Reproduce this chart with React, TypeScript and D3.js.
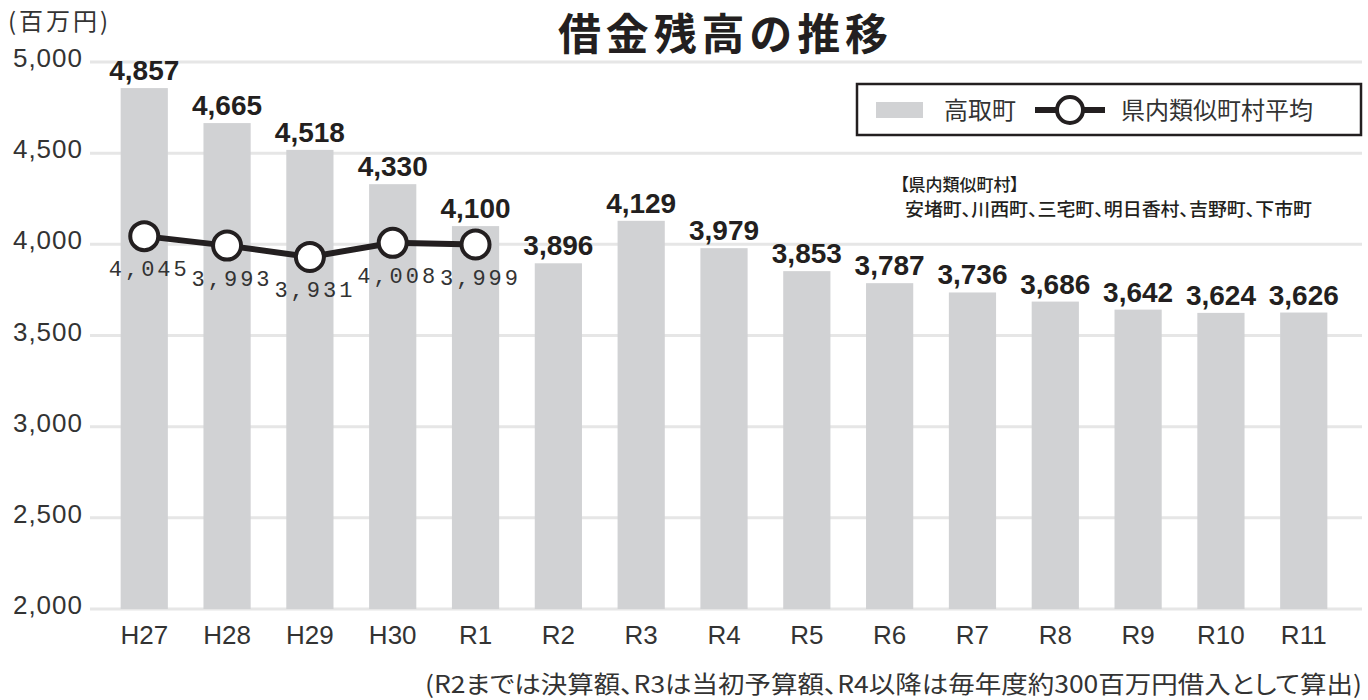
import React from "react";
import * as d3 from "d3";

const categories = ["H27", "H28", "H29", "H30", "R1", "R2", "R3", "R4", "R5", "R6", "R7", "R8", "R9", "R10", "R11"];
const takatoriValues = [4857, 4665, 4518, 4330, 4100, 3896, 4129, 3979, 3853, 3787, 3736, 3686, 3642, 3624, 3626];
const avgCategories = ["H27", "H28", "H29", "H30", "R1"];
const avgValues = [4045, 3993, 3931, 4008, 3999];
const yTicks = [2000, 2500, 3000, 3500, 4000, 4500, 5000];

const W = 1368;
const H = 700;
const DARK = "#231f20";
const BAR = "#d1d2d4";
const GRID = "#e6e6e6";
const SANS = "'Liberation Sans', Arial, Helvetica, sans-serif";
const JP = "'Noto Sans CJK JP', 'Noto Sans', sans-serif";
const MONO = "'Liberation Mono', 'DejaVu Sans Mono', monospace";
const palt = { fontFeatureSettings: "'palt'" } as React.CSSProperties;

export default function App() {
  const x = d3.scaleBand<string>().domain(categories).range([90, 1358]).paddingInner(0.43).paddingOuter(0.37);
  const y = d3.scaleLinear().domain([2000, 5000]).range([609, 62]);
  const fmt = d3.format(",");
  const line = d3
    .line<number>()
    .x((_, i) => (x(avgCategories[i]) as number) + x.bandwidth() / 2)
    .y((d) => y(d));

  return (
    <svg width={W} height={H} style={{ position: "absolute", left: 0, top: 0, background: "#fff" }}>
      {/* gridlines */}
      {yTicks.map((t) => (
        <line key={t} x1={90} x2={1362} y1={y(t)} y2={y(t)} stroke={GRID} strokeWidth={3} />
      ))}
      {/* y tick labels */}
      {yTicks.map((t) => (
        <text key={"yl" + t} x={83} y={y(t) - 4} textAnchor="end" dominantBaseline="central" fontFamily={SANS} fontSize={26} letterSpacing={1} fill="#333">
          {fmt(t)}
        </text>
      ))}
      <text x={8} y={30} fontFamily={JP} fontSize={24} fill="#333" textLength={100} lengthAdjust="spacing">(百万円)</text>

      {/* title */}
      <text x={723} y={50} textAnchor="middle" fontFamily={JP} fontWeight={700} fontSize={43} fill={DARK} textLength={330} lengthAdjust="spacing">
        借金残高の推移
      </text>

      {/* bars */}
      {categories.map((c, i) => (
        <rect key={c} x={x(c)} y={y(takatoriValues[i])} width={x.bandwidth()} height={y(2000) - y(takatoriValues[i])} fill={BAR} />
      ))}
      {/* bar labels */}
      {categories.map((c, i) => (
        <text
          key={"bl" + c}
          x={(x(c) as number) + x.bandwidth() / 2}
          y={y(takatoriValues[i]) - 8}
          textAnchor="middle"
          fontFamily={SANS}
          fontWeight={700}
          fontSize={28}
          fill={DARK}
        >
          {fmt(takatoriValues[i])}
        </text>
      ))}

      {/* x labels */}
      {categories.map((c) => (
        <text key={"xl" + c} x={(x(c) as number) + x.bandwidth() / 2} y={644} textAnchor="middle" fontFamily={SANS} fontSize={26} fill="#333">
          {c}
        </text>
      ))}

      {/* average line */}
      <path d={line(avgValues) || ""} fill="none" stroke={DARK} strokeWidth={6} />
      {avgValues.map((v, i) => (
        <circle key={"c" + i} cx={(x(avgCategories[i]) as number) + x.bandwidth() / 2} cy={y(v)} r={14} fill="#fff" stroke={DARK} strokeWidth={4} />
      ))}
      {avgValues.map((v, i) => (
        <text
          key={"al" + i}
          x={(x(avgCategories[i]) as number) + x.bandwidth() / 2 + 5}
          y={y(v) + 40}
          textAnchor="middle"
          fontFamily={MONO}
          fontSize={22}
          letterSpacing={3}
          fill="#333"
        >
          {fmt(v)}
        </text>
      ))}

      {/* legend */}
      <rect x={857} y={84} width={504} height={51} fill="#fff" stroke={DARK} strokeWidth={2.5} />
      <rect x={876} y={102} width={47} height={16} fill={BAR} />
      <text x={944} y={119} fontFamily={JP} fontSize={24} fill="#333">高取町</text>
      <line x1={1035} x2={1105} y1={110} y2={110} stroke={DARK} strokeWidth={6} />
      <circle cx={1070} cy={110} r={13} fill="#fff" stroke={DARK} strokeWidth={4} />
      <text x={1121} y={119} fontFamily={JP} fontSize={24} fill="#333">県内類似町村平均</text>

      {/* note */}
      <text x={900} y={191} fontFamily={JP} fontSize={17} fontWeight={500} fill={DARK} style={palt}>【県内類似町村】</text>
      <text x={905} y={216} fontFamily={JP} fontSize={18} fontWeight={500} fill={DARK} style={palt} textLength={407} lengthAdjust="spacingAndGlyphs">
        安堵町、川西町、三宅町、明日香村、吉野町、下市町
      </text>

      {/* footnote */}
      <text x={425} y={693} fontFamily={JP} fontSize={24} fill="#333" style={palt} textLength={937} lengthAdjust="spacingAndGlyphs">
        (R2までは決算額、R3は当初予算額、R4以降は毎年度約300百万円借入として算出)
      </text>
    </svg>
  );
}
